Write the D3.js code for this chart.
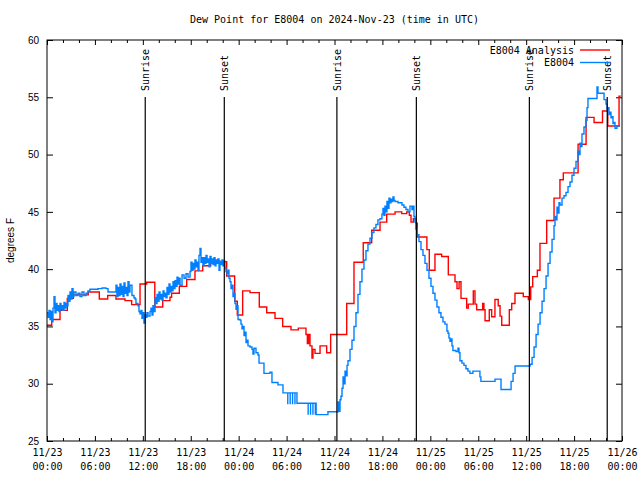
<!DOCTYPE html>
<html><head><meta charset="utf-8">
<script src="https://cdn.jsdelivr.net/npm/d3@7"></script>
<style>body{margin:0;background:#fff}</style>
</head><body>
<svg id="c" width="640" height="480"></svg>
<script>
const chartTitle = "Dew Point for E8004 on 2024-Nov-23 (time in UTC)";
const yLabel = "degrees F";
const seriesNames = ["E8004 Analysis", "E8004"];
const seriesColors = ["#ff0000", "#0080ff"];
const yTicks = [25, 30, 35, 40, 45, 50, 55, 60];
const xMajorHours = [0, 6, 12, 18, 24, 30, 36, 42, 48, 54, 60, 66, 72];
const xMinorHours = d3.range(0, 73, 2);
const sunriseHours = [12.3, 36.3, 60.4];
const sunsetHours = [22.2, 46.25, 70.15];

// E8004 Analysis (step series) : hours since 11/23 00:00 UTC, degrees F
const analysisHours = [0.00,0.59,1.63,2.54,3.29,5.17,6.55,7.60,8.64,9.77,10.60,11.65,12.48,13.50,14.49,15.40,15.60,16.57,17.49,18.53,19.50,20.50,22.50,23.50,23.83,24.50,25.42,26.58,27.51,28.55,29.51,30.55,31.47,32.43,32.60,32.75,32.93,33.18,33.30,33.56,34.19,35.02,35.52,37.53,38.44,39.60,40.66,41.70,42.54,43.58,44.42,45.04,45.37,45.58,45.87,46.20,46.37,47.57,47.87,48.58,49.42,50.25,51.09,51.34,51.60,51.84,52.55,52.75,53.38,53.59,53.80,54.55,54.71,54.85,55.38,55.68,56.09,56.50,56.73,56.94,57.89,58.19,58.60,59.64,60.27,60.57,60.82,61.40,61.73,62.57,63.49,64.23,64.65,66.50,67.50,68.50,69.56,70.22,71.63,71.85];
const analysisValues = [35.1,35.6,36.4,37.45,37.75,38.0,37.4,37.7,37.4,37.25,36.9,38.7,38.85,36.7,37.25,37.55,37.9,38.5,39.1,39.85,40.3,40.65,39.4,37.2,36.0,38.1,37.95,36.7,36.2,35.7,35.0,34.7,34.85,34.3,33.5,34.3,33.3,32.25,33.0,32.65,33.3,32.7,34.3,37.0,40.6,42.3,43.4,44.1,44.8,45.0,44.85,45.0,44.7,44.1,44.4,44.0,42.8,41.7,39.9,41.3,41.1,39.5,38.9,38.3,38.9,37.45,36.6,36.95,38.1,36.95,36.45,37.0,36.45,35.5,36.45,35.85,37.35,36.8,35.9,35.1,36.45,37.0,37.9,37.6,37.35,38.45,39.35,39.9,42.25,44.25,46.2,47.8,48.4,50.9,53.25,52.8,53.8,52.5,55.1,55.1];

// E8004 observations : hours since 11/23 00:00 UTC, degrees F
const obsHours = [0.00,0.13,0.25,0.38,0.50,0.63,0.75,0.88,1.00,1.13,1.25,1.38,1.50,1.63,1.75,1.88,2.00,2.13,2.25,2.38,2.50,2.63,2.75,2.88,3.01,3.13,3.26,3.38,3.63,3.88,4.13,4.38,4.63,4.88,5.13,5.38,5.89,6.39,6.89,7.39,7.64,8.14,8.51,8.64,8.76,8.89,9.02,9.14,9.27,9.39,9.52,9.64,9.77,9.89,10.02,10.14,10.27,10.39,10.64,10.89,11.02,11.14,11.39,11.52,11.64,11.77,11.89,12.02,12.14,12.27,12.39,12.52,12.65,12.90,13.02,13.15,13.27,13.40,13.53,13.65,13.78,13.90,14.03,14.15,14.28,14.40,14.53,14.65,14.78,14.90,15.03,15.15,15.28,15.40,15.53,15.65,15.78,15.90,16.03,16.15,16.28,16.40,16.53,16.66,16.91,17.16,17.41,17.66,17.91,18.03,18.16,18.28,18.41,18.53,18.66,18.78,18.91,19.03,19.16,19.28,19.41,19.53,19.66,19.78,19.91,20.04,20.16,20.29,20.41,20.54,20.66,20.79,20.91,21.04,21.16,21.29,21.41,21.54,21.66,21.79,21.91,22.04,22.16,22.29,22.41,22.54,22.67,22.79,22.92,23.04,23.17,23.29,23.42,23.54,23.67,23.79,23.92,24.17,24.29,24.42,24.54,24.67,24.79,24.92,25.04,25.17,25.42,25.67,25.79,25.92,26.17,26.42,26.55,27.05,27.17,27.67,27.92,28.17,28.92,29.42,29.55,30.15,30.15,30.45,30.45,30.75,30.75,31.05,31.05,31.30,32.70,32.70,33.00,33.00,33.30,33.30,33.60,33.60,33.70,35.06,35.18,36.31,36.44,36.56,36.69,36.81,36.94,37.07,37.19,37.32,37.44,37.57,37.69,37.94,38.19,38.44,38.69,38.94,39.19,39.44,39.69,39.94,40.19,40.44,40.69,40.94,41.19,41.44,41.69,41.94,42.07,42.19,42.32,42.44,42.57,42.69,42.82,42.94,43.07,43.19,43.32,43.45,43.57,43.95,44.45,44.70,44.95,45.20,45.45,45.70,45.82,45.95,46.07,46.20,46.33,46.58,46.83,47.08,47.33,47.58,47.83,48.08,48.33,48.58,48.83,49.08,49.33,49.58,49.83,50.08,50.21,50.33,50.46,50.58,50.71,50.83,51.21,51.46,51.59,51.71,51.96,52.21,52.46,52.71,52.96,53.21,53.33,54.09,54.21,54.33,55.97,56.10,56.73,56.85,57.86,58.11,58.36,58.61,60.24,60.49,60.74,60.99,61.24,61.49,61.74,61.99,62.24,62.49,62.74,62.99,63.24,63.49,63.61,63.74,63.86,63.99,64.11,64.24,64.49,64.74,64.99,65.24,65.49,65.74,65.99,66.24,66.49,66.61,66.74,66.86,66.99,67.24,67.49,67.62,67.74,68.74,68.87,68.99,69.62,69.75,70.00,70.12,70.25,70.37,70.50,70.62,70.75,70.87,71.00,71.12,71.37,71.75];
const obsValues = [36.2,35.8,36.4,35.6,36.3,35.4,36.6,37.6,36.2,37.0,36.4,36.8,36.3,37.0,36.5,36.8,36.4,37.1,36.6,37.0,36.8,37.7,37.2,38.0,37.4,38.3,37.6,38.0,37.7,37.9,37.6,38.0,37.7,37.9,38.1,38.25,38.25,38.3,38.35,38.3,38.0,38.0,38.0,38.6,37.6,38.4,37.7,38.7,37.8,38.5,37.6,38.8,37.9,38.4,37.7,38.9,38.0,38.6,37.7,37.5,37.4,37.0,36.8,36.3,36.1,36.4,35.7,36.2,35.3,36.0,35.8,36.2,35.9,36.3,36.6,36.0,36.8,36.3,37.5,37.0,37.8,37.2,38.0,37.4,37.8,37.3,38.1,37.6,37.9,37.5,38.4,37.8,38.7,38.0,38.5,38.1,38.9,38.3,39.0,38.5,39.3,38.7,39.2,38.6,39.5,39.2,39.6,39.3,39.8,40.6,39.9,40.5,40.0,40.8,40.2,40.6,39.9,41.2,41.8,40.6,41.0,40.3,41.0,40.5,41.2,40.6,40.9,40.2,41.1,40.5,40.9,40.4,41.0,40.3,40.8,40.5,40.9,39.9,40.7,40.4,40.8,40.3,40.7,40.1,39.8,39.6,39.9,39.2,38.9,38.3,38.6,37.6,37.9,37.0,36.5,36.8,35.6,35.55,35.2,34.8,35.0,34.2,34.5,33.6,33.8,33.3,33.2,33.0,32.6,33.1,32.7,32.5,31.8,31.8,30.9,30.9,31.0,30.1,29.9,29.9,29.2,28.2,29.2,28.2,29.2,28.2,29.2,28.2,29.2,28.3,27.3,28.3,27.3,28.3,27.3,28.3,27.3,28.3,27.3,27.3,27.55,27.55,28.4,27.6,28.6,28.9,29.6,30.6,30.0,31.1,30.7,31.6,32.0,33.0,33.8,35.0,36.2,37.8,38.9,40.0,40.8,41.6,42.2,42.7,43.2,43.6,43.9,44.3,44.4,44.8,45.3,44.7,45.5,45.0,45.9,45.3,46.2,45.8,46.1,45.9,46.3,46.0,45.9,45.8,45.6,45.4,45.2,45.0,45.5,45.2,45.5,44.6,44.1,43.5,43.0,42.4,41.7,41.2,40.5,39.9,39.2,38.5,37.9,37.3,36.7,36.2,35.8,35.4,35.2,34.6,34.4,34.0,33.7,33.9,33.3,32.9,32.8,33.1,32.7,32.0,31.8,31.6,31.3,31.1,30.9,30.9,31.1,31.1,30.6,30.2,30.2,30.4,30.4,29.5,29.5,30.2,30.9,31.55,31.55,31.7,32.3,33.2,34.3,35.2,36.2,37.2,38.3,39.4,40.5,41.5,42.6,43.8,44.6,44.3,45.4,44.9,45.8,45.6,46.2,46.4,46.7,47.2,47.6,48.2,48.8,49.4,50.3,50.0,51.0,50.7,51.8,52.4,53.0,54.1,54.9,54.9,55.9,55.35,55.35,54.8,54.4,53.9,54.1,53.5,53.7,53.2,53.3,52.7,52.8,52.3,52.5,52.5];

const svg = d3.select("#c");
const L = 47, R = 622, T = 40, B = 441;
const t0 = Date.UTC(2024, 10, 23);
const toDate = h => new Date(t0 + h * 3600e3);
const x = d3.scaleUtc().domain([toDate(0), toDate(72)]).range([L, R]);
const y = d3.scaleLinear().domain([25, 60]).range([B, T]);
const mono = "'DejaVu Sans Mono', 'Liberation Mono', monospace";
const sans = "'Liberation Sans', Arial, sans-serif";

svg.append("rect").attr("width", 640).attr("height", 480).attr("fill", "#fff");

// title
svg.append("text").attr("x", (L + R) / 2).attr("y", 23).attr("text-anchor", "middle")
  .style("font-family", mono).style("font-size", "10px").text(chartTitle);

// y label
svg.append("text").attr("transform", "translate(14," + ((T + B) / 2) + ") rotate(-90)")
  .attr("text-anchor", "middle").style("font-family", sans).style("font-size", "10px").text(yLabel);

// axes
function styleAxis(g) { g.select(".domain").remove(); g.selectAll("line").attr("stroke", "#000"); }
const majorDates = xMajorHours.map(toDate);
const minorDates = xMinorHours.filter(h => h % 6 !== 0).map(toDate);

const gxb = svg.append("g").attr("transform", `translate(0,${B})`)
  .call(d3.axisBottom(x).tickValues(majorDates).tickSize(-5).tickPadding(0)
    .tickFormat(d3.utcFormat("%m/%d|%H:%M")));
styleAxis(gxb);
gxb.selectAll("text").each(function(d) {
  const parts = d3.utcFormat("%m/%d|%H:%M")(d).split("|");
  const t = d3.select(this).text(null).attr("y", null).attr("dy", null)
    .style("font-family", mono).style("font-size", "10px").attr("fill", "#000");
  t.append("tspan").attr("x", 0).attr("y", 15).text(parts[0]);
  t.append("tspan").attr("x", 0).attr("y", 29).text(parts[1]);
});
styleAxis(svg.append("g").attr("transform", `translate(0,${B})`)
  .call(d3.axisBottom(x).tickValues(minorDates).tickSize(-3).tickFormat("")));
styleAxis(svg.append("g").attr("transform", `translate(0,${T})`)
  .call(d3.axisTop(x).tickValues(majorDates).tickSize(-5).tickFormat("")));
styleAxis(svg.append("g").attr("transform", `translate(0,${T})`)
  .call(d3.axisTop(x).tickValues(minorDates).tickSize(-3).tickFormat("")));

const gyl = svg.append("g").attr("transform", `translate(${L},0)`)
  .call(d3.axisLeft(y).tickValues(yTicks).tickSize(-6).tickPadding(8).tickFormat(d3.format("d")));
styleAxis(gyl);
gyl.selectAll("text").style("font-family", sans).style("font-size", "10px").attr("fill", "#000");
styleAxis(svg.append("g").attr("transform", `translate(${R},0)`)
  .call(d3.axisRight(y).tickValues(yTicks).tickSize(-6).tickFormat("")));

// series
const line = d3.line().x(d => x(toDate(d[0]))).y(d => y(d[1])).curve(d3.curveStepAfter);
const analysis = analysisHours.map((h, i) => [h, analysisValues[i]]);
const obs = obsHours.map((h, i) => [h, obsValues[i]]);
svg.append("clipPath").attr("id", "pc").append("rect")
  .attr("x", L).attr("y", T).attr("width", R - L).attr("height", B - T);
const gp = svg.append("g").attr("clip-path", "url(#pc)");
gp.append("path").datum(analysis).attr("d", line).attr("fill", "none")
  .attr("stroke", seriesColors[0]).attr("stroke-width", 1.4);
gp.append("path").datum(obs).attr("d", line).attr("fill", "none")
  .attr("stroke", seriesColors[1]).attr("stroke-width", 1.4);

// sunrise / sunset markers
const sunEvents = sunriseHours.map(h => ({h, label: "Sunrise"}))
  .concat(sunsetHours.map(h => ({h, label: "Sunset"})));
sunEvents.forEach(ev => {
  const xp = x(toDate(ev.h));
  svg.append("line").attr("x1", xp).attr("x2", xp).attr("y1", 97).attr("y2", B)
    .attr("stroke", "#000").attr("stroke-width", 1.2);
  svg.append("text").attr("transform", `translate(${xp + 4},91) rotate(-90)`)
    .attr("text-anchor", "start").style("font-family", mono).style("font-size", "10px").text(ev.label);
});

// frame
svg.append("rect").attr("x", L).attr("y", T).attr("width", R - L).attr("height", B - T)
  .attr("fill", "none").attr("stroke", "#000").attr("stroke-width", 1);

// legend
seriesNames.forEach((name, i) => {
  const ly = 50 + i * 12.5;
  svg.append("text").attr("x", 574).attr("y", ly + 3.5).attr("text-anchor", "end")
    .style("font-family", mono).style("font-size", "10px").text(name);
  svg.append("line").attr("x1", 580).attr("x2", 610).attr("y1", ly).attr("y2", ly)
    .attr("stroke", seriesColors[i]).attr("stroke-width", 1.4);
});
</script>
</body></html>
